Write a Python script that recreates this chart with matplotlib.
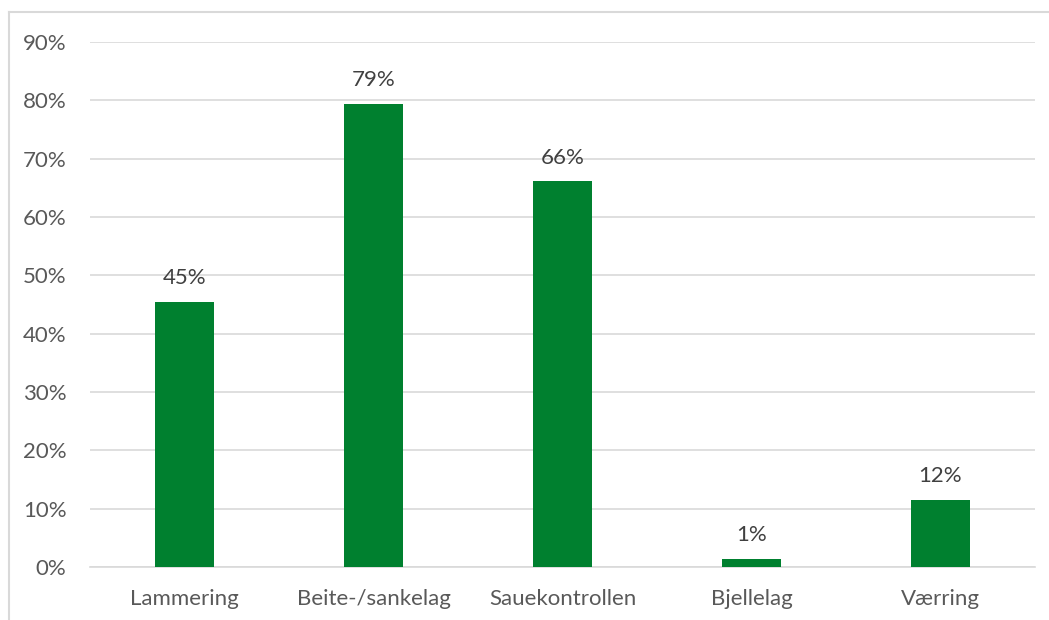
import numpy as np
import matplotlib.pyplot as plt
from matplotlib.lines import Line2D
from matplotlib.ticker import PercentFormatter

# data
kategorier = ['Lammering', 'Beite-/sankelag', 'Sauekontrollen', 'Bjellelag', 'Værring']
andel = [45.4, 79.4, 66.1, 1.4, 11.5]
etiketter = ['45%', '79%', '66%', '1%', '12%']

plt.rcParams['font.family'] = ['Lato', 'DejaVu Sans']
gra = '#595959'

fig = plt.figure(figsize=(10.49, 6.2), dpi=100)
ax = fig.add_axes([90/1049, 1-567/620, (1035-90)/1049, (567-42)/620])

x = np.arange(len(kategorier))
ax.bar(x, andel, width=0.31, color='#00802F', zorder=3)

for xi, v, txt in zip(x, andel, etiketter):
    ax.annotate(txt, (xi, v), xytext=(0, 10), textcoords='offset points',
                ha='center', va='bottom', fontsize=16, color='#404040')

ax.set_xlim(-0.5, len(kategorier) - 0.5)
ax.set_ylim(0, 90)
ax.set_yticks(np.arange(0, 91, 10))
ax.yaxis.set_major_formatter(PercentFormatter(decimals=0))
ax.set_xticks(x)
ax.set_xticklabels(kategorier)
ax.tick_params(axis='both', length=0, colors=gra, labelsize=16)
ax.tick_params(axis='y', pad=17)
ax.tick_params(axis='x', pad=16)

ax.grid(axis='y', color='#d9d9d9', linewidth=1.2, zorder=0)
for s in ['top', 'right', 'left']:
    ax.spines[s].set_visible(False)
ax.spines['bottom'].set_color('#d9d9d9')
ax.spines['bottom'].set_linewidth(1.2)

# light frame round the chart (top and left edges show)
fig.add_artist(Line2D([9/1049, 1], [1-12/620, 1-12/620], color='#d9d9d9', lw=1.5))
fig.add_artist(Line2D([9/1049, 9/1049], [0, 1-12/620], color='#d9d9d9', lw=1.5))

fig.savefig('out.png', dpi=100)
